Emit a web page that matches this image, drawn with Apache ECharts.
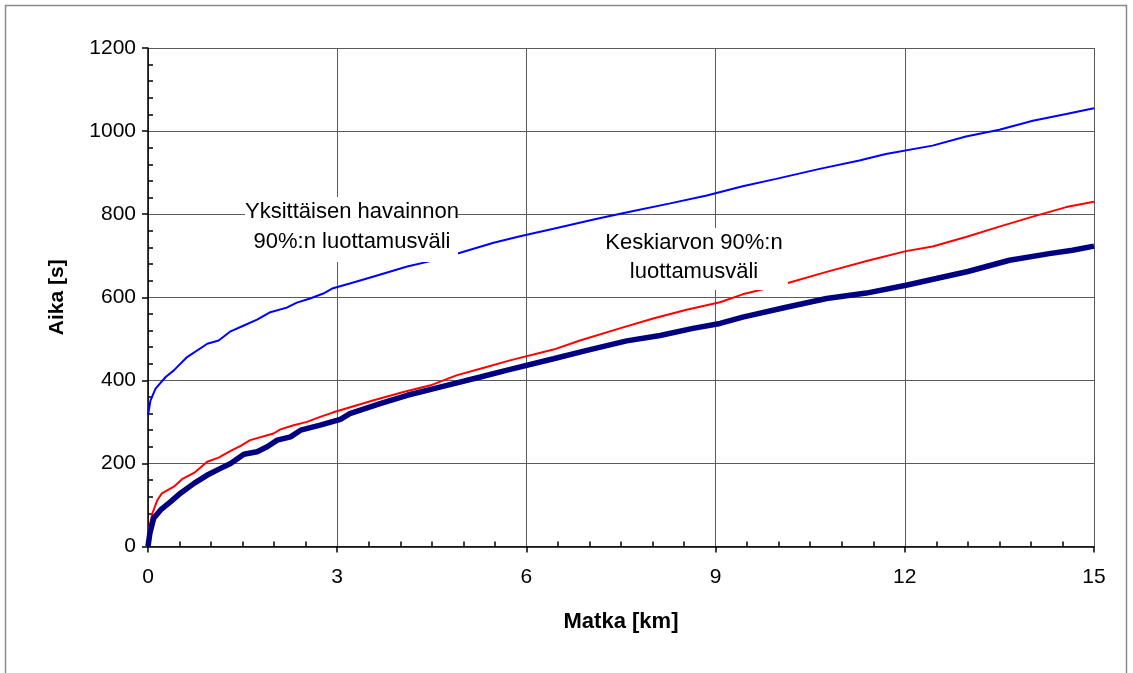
<!DOCTYPE html>
<html>
<head>
<meta charset="utf-8">
<script src="https://cdn.jsdelivr.net/npm/echarts@6/dist/echarts.min.js"></script>
<style>
  html, body { margin: 0; padding: 0; background: #fff; }
  #chart { width: 1133px; height: 673px; }
</style>
</head>
<body>
<div id="chart"></div>
<script>
// Matka (km) ja aika (s): yksittäisen havainnon 90 %:n luottamusväli
const singleKm = [0, 0.04, 0.12, 0.28, 0.41, 0.62, 0.94, 1.12, 1.31, 1.52, 1.73, 1.94, 2.2, 2.36, 2.57, 2.78, 2.92, 3.2, 3.58, 4.11, 4.48, 4.95, 5.48, 5.9, 6.43, 7.12, 7.64, 8.28, 8.86, 9.43, 9.96, 10.65, 11.28, 11.7, 12.44, 12.97, 13.5, 14.03, 14.56, 15];
const singleSec = [316, 352, 380, 408, 424, 456, 488, 496, 518, 532, 546, 564, 575, 587, 597, 609, 621, 633, 650, 674, 687, 707, 731, 747, 765, 789, 806, 826, 845, 867, 885, 909, 929, 945, 965, 987, 1003, 1025, 1041, 1055];

// Keskiarvon 90 %:n luottamusvälin yläraja
const meanCiKm = [0, 0.07, 0.15, 0.22, 0.41, 0.54, 0.73, 0.94, 1.12, 1.31, 1.47, 1.62, 1.99, 2.1, 2.31, 2.52, 2.73, 2.94, 3.58, 4.05, 4.48, 4.89, 5.27, 5.74, 6.43, 6.85, 7.48, 8.01, 8.54, 9.07, 9.43, 10.12, 10.76, 11.44, 12.02, 12.44, 12.97, 13.5, 14.03, 14.56, 15];
const meanCiSec = [32, 80, 112, 128, 144, 162, 177, 204, 214, 230, 242, 256, 272, 282, 292, 300, 312, 323, 352, 372, 388, 412, 428, 448, 474, 496, 525, 549, 570, 588, 607, 633, 661, 689, 711, 722, 745, 770, 794, 817, 830];

// Keskiarvo
const meanKm = [0, 0.03, 0.09, 0.2, 0.36, 0.52, 0.73, 0.94, 1.15, 1.31, 1.52, 1.73, 1.89, 2.05, 2.26, 2.42, 2.73, 3.05, 3.2, 3.68, 4.11, 4.74, 5.27, 5.68, 6.43, 6.96, 7.59, 8.12, 8.64, 9.07, 9.43, 10.12, 10.76, 11.39, 12.02, 12.5, 13.0, 13.66, 14.29, 14.66, 15];
const meanSec = [0, 32, 68, 88, 108, 129, 152, 172, 188, 200, 222, 228, 240, 256, 264, 280, 292, 306, 320, 344, 364, 388, 408, 424, 452, 472, 495, 508, 525, 537, 552, 576, 597, 610, 629, 645, 662, 689, 705, 713, 723];

const pairs = (xs, ys) => xs.map((x, i) => [x, ys[i]]);

const labelFont = 'Liberation Sans, Arial, sans-serif';

const chart = echarts.init(document.getElementById('chart'), null, { renderer: 'canvas' });

chart.setOption({
  backgroundColor: '#ffffff',
  animation: false,
  grid: { left: 148, right: 39, top: 48, bottom: 126.5, containLabel: false },
  xAxis: {
    type: 'value',
    min: 0, max: 15, interval: 3,
    name: 'Matka [km]',
    nameLocation: 'middle',
    nameGap: 64,
    nameTextStyle: { fontFamily: labelFont, fontSize: 22, fontWeight: 'bold', color: '#000' },
    axisLine: { show: true, onZero: false, lineStyle: { color: '#000', width: 1.5 } },
    axisTick: { show: true, inside: false, length: 6, lineStyle: { color: '#000', width: 1.5 } },
    minorTick: { show: true, splitNumber: 6, length: -5, lineStyle: { color: '#000', width: 1.5 } },
    axisLabel: { fontFamily: labelFont, fontSize: 21, color: '#000', margin: 20 },
    splitLine: { show: true, lineStyle: { color: '#5a5a5a', width: 1 } }
  },
  yAxis: {
    type: 'value',
    min: 0, max: 1200, interval: 200,
    name: 'Aika [s]',
    nameLocation: 'middle',
    nameGap: 80,
    nameRotate: 90,
    nameTextStyle: { fontFamily: labelFont, fontSize: 21, fontWeight: 'bold', color: '#000' },
    axisLine: { show: true, onZero: false, lineStyle: { color: '#000', width: 1.5 } },
    axisTick: { show: true, inside: false, length: 6, lineStyle: { color: '#000', width: 1.5 } },
    minorTick: { show: true, splitNumber: 5, length: -5, lineStyle: { color: '#000', width: 1.5 } },
    axisLabel: {
      fontFamily: labelFont, fontSize: 21, color: '#000', margin: 12,
      formatter: (v) => String(v)
    },
    splitLine: { show: true, lineStyle: { color: '#5a5a5a', width: 1 } }
  },
  series: [
    {
      name: 'Yksittäisen havainnon 90%:n luottamusväli',
      type: 'line',
      data: pairs(singleKm, singleSec),
      showSymbol: false,
      smooth: false,
      lineStyle: { color: '#0000ff', width: 2 },
      z: 3
    },
    {
      name: 'Keskiarvon 90%:n luottamusväli',
      type: 'line',
      data: pairs(meanCiKm, meanCiSec),
      showSymbol: false,
      smooth: false,
      lineStyle: { color: '#ff0000', width: 2 },
      z: 3
    },
    {
      name: 'Keskiarvo',
      type: 'line',
      data: pairs(meanKm, meanSec),
      showSymbol: false,
      smooth: false,
      lineStyle: { color: '#000080', width: 5.5 },
      z: 4
    }
  ],
  graphic: [
    // chart frame
    {
      type: 'rect',
      silent: true,
      z: 100,
      shape: { x: 5.5, y: 5.5, width: 1121, height: 700 },
      style: { fill: null, stroke: '#8a8a8a', lineWidth: 1.5 }
    },
    // labels with white boxes drawn over the curves
    {
      type: 'rect',
      silent: true,
      z: 100,
      shape: { x: 245, y: 197, width: 213, height: 65 },
      style: { fill: '#ffffff' }
    },
    {
      type: 'text',
      silent: true,
      z: 101,
      x: 352, y: 227,
      style: {
        text: 'Yksittäisen havainnon\n90%:n luottamusväli',
        font: '22px ' + labelFont,
        fill: '#000',
        align: 'center',
        verticalAlign: 'middle',
        lineHeight: 30
      }
    },
    {
      type: 'rect',
      silent: true,
      z: 100,
      shape: { x: 600, y: 228, width: 188, height: 62 },
      style: { fill: '#ffffff' }
    },
    {
      type: 'text',
      silent: true,
      z: 101,
      x: 694, y: 257.5,
      style: {
        text: 'Keskiarvon 90%:n\nluottamusväli',
        font: '22px ' + labelFont,
        fill: '#000',
        align: 'center',
        verticalAlign: 'middle',
        lineHeight: 29
      }
    }
  ]
});
</script>
</body>
</html>
